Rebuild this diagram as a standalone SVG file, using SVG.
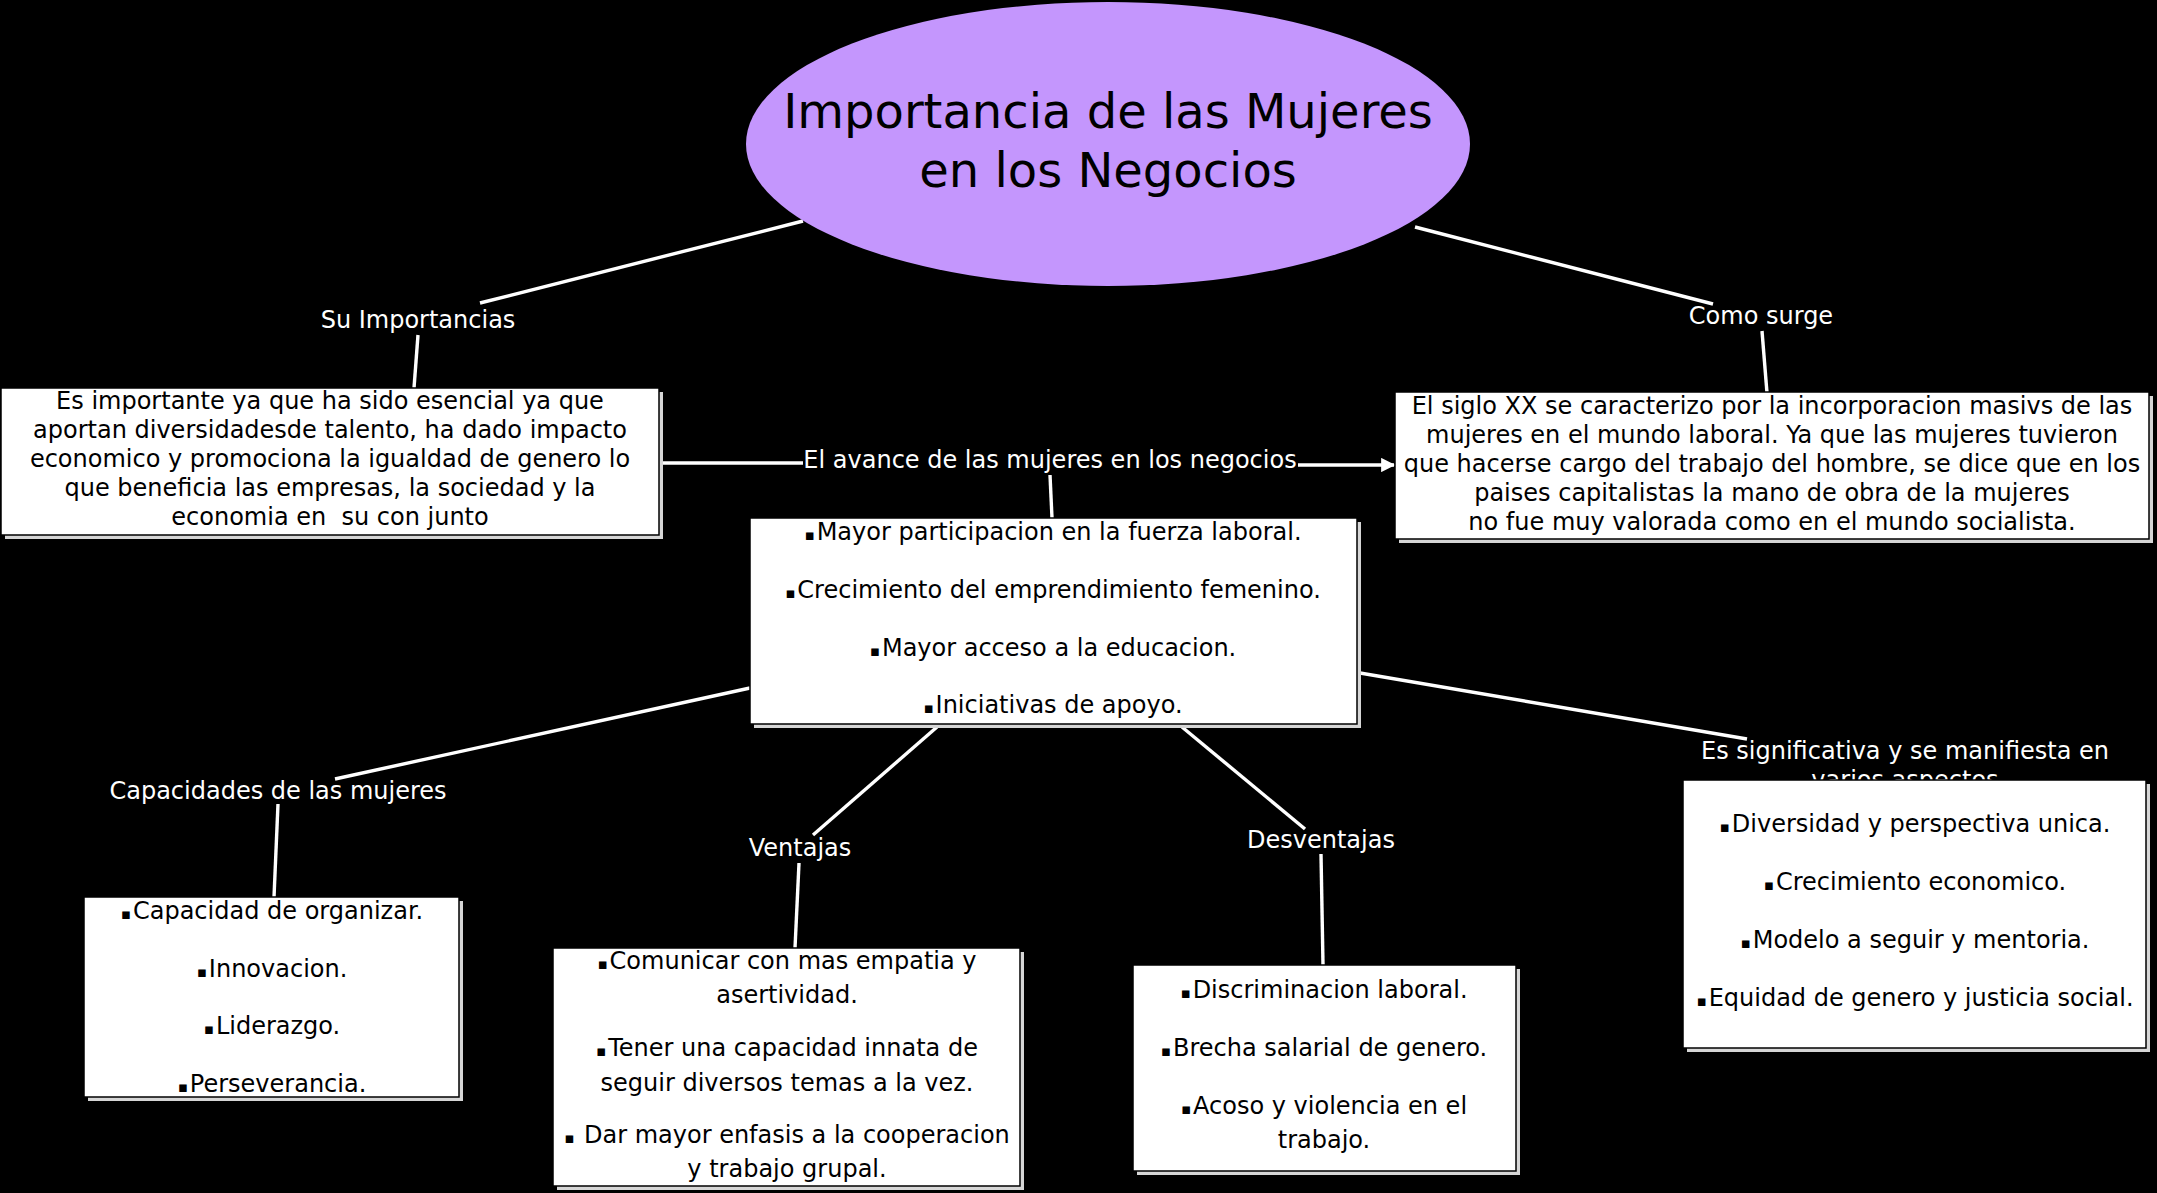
<svg xmlns="http://www.w3.org/2000/svg" width="2157" height="1193" viewBox="0 0 2157 1193">
<defs>
<style>
.t{font-family:"DejaVu Sans",Verdana,"Liberation Sans",sans-serif;font-size:24px;text-anchor:middle}
.lbl{fill:#fff}
.txt{fill:#000}
.title{font-size:48px;fill:#000}
.conn{stroke:#fff;stroke-width:3.4;fill:none;stroke-linecap:butt}
.box{fill:#fff;stroke:#000;stroke-width:1.5}
.sh{fill:#d6d6d6}
.b{font-size:15px}
</style>
<marker id="arr" viewBox="0 0 10 10" refX="9" refY="5" markerWidth="4.2" markerHeight="4.2" markerUnits="strokeWidth" orient="auto">
<path d="M0,0 L10,5 L0,10 z" fill="#fff"/>
</marker>
</defs>
<rect x="0" y="0" width="2157" height="1193" fill="#000"/>

<g id="connectors">
<line class="conn" x1="803" y1="221" x2="480" y2="303"/>
<line class="conn" x1="418" y1="335" x2="414" y2="388"/>
<line class="conn" x1="1415" y1="227" x2="1713" y2="304"/>
<line class="conn" x1="1762" y1="331" x2="1767" y2="393"/>
<line class="conn" x1="659" y1="463" x2="803" y2="463"/>
<line class="conn" x1="1298" y1="465" x2="1394" y2="465" marker-end="url(#arr)"/>
<line class="conn" x1="1050" y1="475" x2="1052" y2="518"/>
<line class="conn" x1="750" y1="688" x2="335" y2="779"/>
<line class="conn" x1="278" y1="804" x2="274" y2="897"/>
<line class="conn" x1="937" y1="727" x2="813" y2="835"/>
<line class="conn" x1="799" y1="863" x2="795" y2="948"/>
<line class="conn" x1="1182" y1="727" x2="1305" y2="829"/>
<line class="conn" x1="1321" y1="854" x2="1323" y2="965"/>
<line class="conn" x1="1360" y1="673" x2="1747" y2="739"/>
</g>

<g id="main">
<ellipse cx="1108" cy="144" rx="362" ry="142" fill="#c496fd"/>
<text class="t title" x="1108" y="128">Importancia de las Mujeres</text>
<text class="t title" x="1108" y="187">en los Negocios</text>
</g>

<g id="lbl-importancias"><text class="t lbl" x="418" y="328">Su Importancias</text></g>
<g id="lbl-surge"><text class="t lbl" x="1761" y="324">Como surge</text></g>
<g id="lbl-avance"><text class="t lbl" x="1050" y="468">El avance de las mujeres en los negocios</text></g>
<g id="lbl-capacidades"><text class="t lbl" x="278" y="799">Capacidades de las mujeres</text></g>
<g id="lbl-ventajas"><text class="t lbl" x="800" y="856">Ventajas</text></g>
<g id="lbl-desventajas"><text class="t lbl" x="1321" y="848">Desventajas</text></g>
<g id="lbl-significativa">
<text class="t lbl" x="1905" y="759">Es significativa y se manifiesta en</text>
<text class="t lbl" x="1905" y="788">varios aspectos</text>
</g>

<g id="box-importante">
<rect class="sh" x="5" y="392" width="658" height="147"/>
<rect class="box" x="1" y="388" width="658" height="147"/>
<text class="t txt" x="330" y="409">Es importante ya que ha sido esencial ya que</text>
<text class="t txt" x="330" y="438">aportan diversidadesde talento, ha dado impacto</text>
<text class="t txt" x="330" y="467">economico y promociona la igualdad de genero lo</text>
<text class="t txt" x="330" y="496">que beneficia las empresas, la sociedad y la</text>
<text class="t txt" x="330" y="525" xml:space="preserve">economia en  su con junto</text>
</g>

<g id="box-siglo">
<rect class="sh" x="1399" y="396" width="754" height="147"/>
<rect class="box" x="1395" y="392" width="754" height="147"/>
<text class="t txt" x="1772" y="414">El siglo XX se caracterizo por la incorporacion masivs de las</text>
<text class="t txt" x="1772" y="443">mujeres en el mundo laboral. Ya que las mujeres tuvieron</text>
<text class="t txt" x="1772" y="472">que hacerse cargo del trabajo del hombre, se dice que en los</text>
<text class="t txt" x="1772" y="501">paises capitalistas la mano de obra de la mujeres</text>
<text class="t txt" x="1772" y="530">no fue muy valorada como en el mundo socialista.</text>
</g>

<g id="box-avance">
<rect class="sh" x="754" y="522" width="607" height="206"/>
<rect class="box" x="750" y="518" width="607" height="206"/>
<text class="t txt" x="1053" y="540"><tspan class="b">▪</tspan><tspan dx="2">Mayor participacion en la fuerza laboral.</tspan></text>
<text class="t txt" x="1053" y="598"><tspan class="b">▪</tspan><tspan dx="2">Crecimiento del emprendimiento femenino.</tspan></text>
<text class="t txt" x="1053" y="656"><tspan class="b">▪</tspan><tspan dx="2">Mayor acceso a la educacion.</tspan></text>
<text class="t txt" x="1053" y="713"><tspan class="b">▪</tspan><tspan dx="2">Iniciativas de apoyo.</tspan></text>
</g>

<g id="box-capacidades">
<rect class="sh" x="88" y="901" width="375" height="200"/>
<rect class="box" x="84" y="897" width="375" height="200"/>
<text class="t txt" x="272" y="919"><tspan class="b">▪</tspan><tspan dx="2">Capacidad de organizar.</tspan></text>
<text class="t txt" x="272" y="977"><tspan class="b">▪</tspan><tspan dx="2">Innovacion.</tspan></text>
<text class="t txt" x="272" y="1034"><tspan class="b">▪</tspan><tspan dx="2">Liderazgo.</tspan></text>
<text class="t txt" x="272" y="1092"><tspan class="b">▪</tspan><tspan dx="2">Perseverancia.</tspan></text>
</g>

<g id="box-ventajas">
<rect class="sh" x="557" y="952" width="467" height="238"/>
<rect class="box" x="553" y="948" width="467" height="238"/>
<text class="t txt" x="787" y="969"><tspan class="b">▪</tspan><tspan dx="2">Comunicar con mas empatia y</tspan></text>
<text class="t txt" x="787" y="1003">asertividad.</text>
<text class="t txt" x="787" y="1056"><tspan class="b">▪</tspan><tspan dx="2">Tener una capacidad innata de</tspan></text>
<text class="t txt" x="787" y="1091">seguir diversos temas a la vez.</text>
<text class="t txt" x="787" y="1143"><tspan class="b">▪</tspan><tspan dx="2"> Dar mayor enfasis a la cooperacion</tspan></text>
<text class="t txt" x="787" y="1177">y trabajo grupal.</text>
</g>

<g id="box-desventajas">
<rect class="sh" x="1137" y="969" width="383" height="206"/>
<rect class="box" x="1133" y="965" width="383" height="206"/>
<text class="t txt" x="1324" y="998"><tspan class="b">▪</tspan><tspan dx="2">Discriminacion laboral.</tspan></text>
<text class="t txt" x="1324" y="1056"><tspan class="b">▪</tspan><tspan dx="2">Brecha salarial de genero.</tspan></text>
<text class="t txt" x="1324" y="1114"><tspan class="b">▪</tspan><tspan dx="2">Acoso y violencia en el</tspan></text>
<text class="t txt" x="1324" y="1148">trabajo.</text>
</g>

<g id="box-aspectos">
<rect class="sh" x="1687" y="784" width="463" height="268"/>
<rect class="box" x="1683" y="780" width="463" height="268"/>
<text class="t txt" x="1915" y="832"><tspan class="b">▪</tspan><tspan dx="2">Diversidad y perspectiva unica.</tspan></text>
<text class="t txt" x="1915" y="890"><tspan class="b">▪</tspan><tspan dx="2">Crecimiento economico.</tspan></text>
<text class="t txt" x="1915" y="948"><tspan class="b">▪</tspan><tspan dx="2">Modelo a seguir y mentoria.</tspan></text>
<text class="t txt" x="1915" y="1006"><tspan class="b">▪</tspan><tspan dx="2">Equidad de genero y justicia social.</tspan></text>
</g>
</svg>
